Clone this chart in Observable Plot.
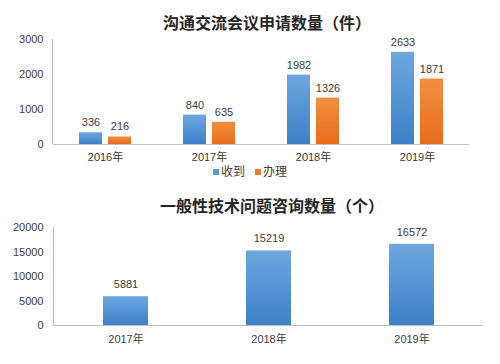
<!DOCTYPE html>
<html><head><meta charset="utf-8">
<script src="https://cdn.jsdelivr.net/npm/d3@7"></script>
<script src="https://cdn.jsdelivr.net/npm/@observablehq/plot@0.6"></script>
<style>
html,body{margin:0;padding:0;background:#fff;}
#wrap{position:relative;width:500px;height:364px;overflow:hidden;font-family:"Liberation Sans","Noto Sans CJK SC",sans-serif;}
.title{position:absolute;left:0;width:500px;text-align:center;font-family:"Noto Sans CJK SC",sans-serif;font-weight:bold;font-size:16px;color:#262626;line-height:20px;z-index:2;}
.chart{position:absolute;left:0;z-index:1;}
#legend{position:absolute;top:163px;left:0;width:500px;text-align:center;font-size:12px;color:#404040;font-family:"Noto Sans CJK SC",sans-serif;line-height:16px;z-index:2;}
#legend span.sw{display:inline-block;width:6px;height:6px;margin-right:2px;vertical-align:middle;position:relative;top:-1px;}
#legend span.it{margin:0 5px;}
</style></head>
<body><div id="wrap">
<div class="title" style="top:12px;padding-left:34px;box-sizing:border-box;">沟通交流会议申请数量（件）</div>
<div class="chart" id="c1" style="top:0px;"></div>
<div id="legend"></div>
<div class="title" style="top:195px;padding-left:44px;box-sizing:border-box;">一般性技术问题咨询数量（个）</div>
<div class="chart" id="c2" style="top:215px;"></div>
</div>
<script>
const years1 = ["2016年", "2017年", "2018年", "2019年"];
const seriesNames = ["收到", "办理"];
const received = [336, 840, 1982, 2633];
const handled = [216, 635, 1326, 1871];
const yTicks1 = [0, 1000, 2000, 3000];

const years2 = ["2017年", "2018年", "2019年"];
const consults = [5881, 15219, 16572];
const yTicks2 = [0, 5000, 10000, 15000, 20000];

const seriesColors = {"收到": "#5b9bd5", "办理": "#ed7d31"};
const gradIds = {"收到": "gBlue", "办理": "gOrange"};

const data1 = [];
years1.forEach((y, i) => {
  data1.push({year: y, series: seriesNames[0], value: received[i]});
  data1.push({year: y, series: seriesNames[1], value: handled[i]});
});
const data2 = years2.map((y, i) => ({year: y, value: consults[i]}));

const font = "Liberation Sans, Noto Sans CJK SC, sans-serif";
const textColor = "#404040";
const axisColor = "#bfbfbf";

function addGradients(svg) {
  const defs = d3.select(svg).insert("defs", ":first-child");
  const mk = (id, top, bot) => {
    const g = defs.append("linearGradient").attr("id", id).attr("x1", 0).attr("x2", 0).attr("y1", 0).attr("y2", 1);
    g.append("stop").attr("offset", "0%").attr("stop-color", top);
    g.append("stop").attr("offset", "100%").attr("stop-color", bot);
  };
  mk("gBlue", "#6ea7df", "#3c80c8");
  mk("gOrange", "#f28f42", "#e86d1c");
}

function addYAxisLine(svg, xScaleName) {
  const ys = svg.scale("y").range;
  const xs = svg.scale(xScaleName).range;
  d3.select(svg).append("line")
    .attr("x1", xs[0] + 0.5).attr("x2", xs[0] + 0.5)
    .attr("y1", ys[0]).attr("y2", ys[1])
    .attr("stroke", axisColor);
}

const p1 = Plot.plot({
  width: 500, height: 164,
  marginTop: 39, marginBottom: 20, marginLeft: 52, marginRight: 30,
  style: {fontFamily: font, fontSize: "11px", color: textColor, background: "transparent"},
  fx: {domain: years1, paddingInner: 0, paddingOuter: 0, label: null},
  x: {domain: seriesNames, paddingInner: 0.22, paddingOuter: 0.86, axis: null},
  y: {domain: [0, 3000], label: null},
  marks: [
    Plot.axisY({ticks: yTicks1, tickFormat: d => String(d), tickSize: 0, tickPadding: 10, fill: textColor, label: null, fontSize: 11}),
    Plot.axisFx({anchor: "bottom", tickSize: 0, tickPadding: 9, fill: textColor, label: null, fontSize: 11}),
    Plot.barY(data1, {fx: "year", x: "series", y: "value", fill: d => "url(#" + gradIds[d.series] + ")"}),
    Plot.text(data1, {fx: "year", x: "series", y: "value", text: d => String(d.value), dy: -10, fill: textColor, fontSize: 11}),
    Plot.ruleY([0], {stroke: axisColor})
  ]
});
addGradients(p1);
addYAxisLine(p1, "fx");
document.getElementById("c1").appendChild(p1);

const p2 = Plot.plot({
  width: 500, height: 130,
  marginTop: 12, marginBottom: 20, marginLeft: 53, marginRight: 17,
  style: {fontFamily: font, fontSize: "11px", color: textColor, background: "transparent"},
  x: {domain: years2, paddingInner: 0.686, paddingOuter: 0.343, label: null},
  y: {domain: [0, 20000], label: null},
  marks: [
    Plot.axisY({ticks: yTicks2, tickFormat: d => String(d), tickSize: 0, tickPadding: 10, fill: textColor, label: null, fontSize: 11}),
    Plot.axisX({tickSize: 0, tickPadding: 10, fill: textColor, label: null, fontSize: 11}),
    Plot.barY(data2, {x: "year", y: "value", fill: "url(#gBlue)"}),
    Plot.text(data2, {x: "year", y: "value", text: d => String(d.value), dy: -12, fill: textColor, fontSize: 11}),
    Plot.ruleY([0], {stroke: axisColor})
  ]
});
addGradients(p2);
addYAxisLine(p2, "x");
document.getElementById("c2").appendChild(p2);

const lg = d3.select("#legend");
seriesNames.forEach(s => {
  const it = lg.append("span").attr("class", "it");
  it.append("span").attr("class", "sw").style("background", seriesColors[s]);
  it.append("span").text(s);
});
</script>
</body></html>
